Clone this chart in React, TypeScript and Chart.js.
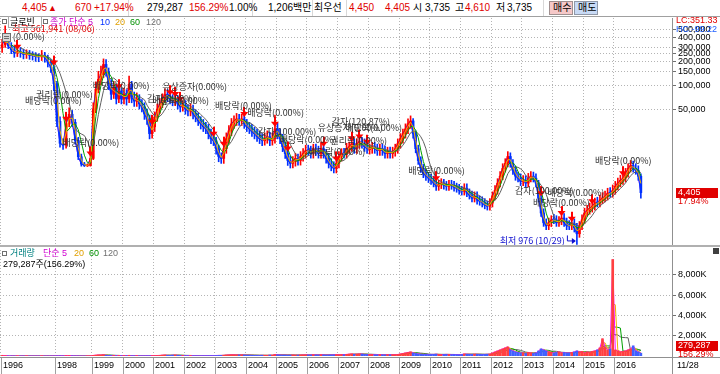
import React, { useEffect, useRef } from 'react';
import { Chart, registerables } from 'chart.js';

Chart.register(...registerables);
Chart.defaults.font.family = '"Liberation Sans", "Noto Sans CJK KR", sans-serif';

// ---------------- data ----------------
const START_YEAR = 1996;
const START_MONTH = 7;
const LAST_SATURDAY_TRADING_YEAR = 1998;
const TRADING_DAYS_WITH_SAT = 25;
const TRADING_DAYS = 21;

// monthly candles, 1996-07 .. 2016-11
const openP = [
  300000, 325000, 375000, 315000, 280000, 255000,
  264000, 258000, 246000, 248000, 240000, 237000, 230000, 228000, 240000, 225000, 195000, 167000,
  105000, 35000, 18500, 17500, 32500, 43000, 34000, 20000, 12500, 10100, 9600, 9700,
  11900, 50000, 89000, 119000, 137000, 183000, 149000, 103000, 77000, 94000, 67000, 84000,
  67000, 77000, 67000, 103000, 70600, 63000, 67000, 58000, 53000, 43300, 37500, 24400,
  29800, 39700, 50000, 58000, 67000, 77000, 70600, 67000, 63000, 67000, 58000, 53000,
  56100, 50000, 47200, 50000, 43300, 39700, 35400, 32500, 29800, 28100, 24400, 21100,
  19900, 15800, 12600, 11900, 15800, 21100, 26500, 32500, 35400, 37500, 35400, 37500,
  32500, 29800, 28100, 25800, 24400, 22400, 21100, 19900, 21100, 22400, 19900, 21100,
  28100, 24400, 21100, 16700, 13700, 11200, 10300, 10900, 11900, 11200, 12600, 13700,
  15300, 14900, 13700, 15800, 14900, 13700, 15800, 13700, 11900, 10300, 9450, 8900,
  10300, 12600, 14000, 13700, 15800, 16700, 18300, 15800, 18300, 19400, 18300, 16700,
  15400, 15800, 16700, 15800, 14900, 15800, 14900, 13700, 14500, 13700, 14500, 15800,
  18300, 21100, 24400, 28100, 32500, 35400, 24400, 15800, 11200, 8900, 7700, 7100,
  6700, 6300, 5800, 5300, 5600, 5800, 5450, 5300, 5600, 5450, 5150, 5000,
  4700, 4580, 5000, 4330, 4080, 3750, 3970, 3540, 3440, 3250, 3060, 2970,
  3250, 3970, 4700, 5800, 7100, 8900, 10300, 12600, 10300, 8400, 7100, 6700,
  6100, 6300, 5800, 6700, 7100, 6700, 5800, 3750, 2440, 1830, 1680, 1830,
  2030, 1990, 1830, 1930, 2100, 1830, 1720, 1680, 1780, 1580, 1330, 1680,
  1990, 2440, 2640, 2800, 2970, 3350, 3250, 3540, 3750, 3970, 4450, 4330,
  4700, 5300, 5800, 6300, 6700, 7700, 8900, 9700, 8900, 8400, 7100,
];
const highP = [
  380000, 561941, 430000, 345000, 310000, 300000,
  300000, 285000, 280000, 275000, 265000, 258000, 250000, 275000, 260000, 240000, 210000, 180000,
  112000, 40000, 21000, 38000, 52000, 48000, 37000, 22000, 13500, 10600, 10100, 14000,
  60000, 110000, 150000, 175000, 215000, 210000, 165000, 118000, 112000, 102000, 100000, 92000,
  92000, 88000, 130000, 112000, 82000, 80000, 76000, 66000, 60000, 50000, 42000, 36000,
  46000, 58000, 68000, 78000, 90000, 88000, 80000, 76000, 78000, 74000, 64000, 64000,
  64000, 57000, 58000, 56000, 49000, 45000, 40000, 37000, 34000, 32000, 28000, 24500,
  22000, 17500, 14000, 18500, 25000, 31000, 38000, 41000, 44000, 43000, 43000, 41000,
  37000, 34000, 32000, 29500, 28000, 26000, 24500, 25000, 26500, 25500, 25000, 42000,
  33000, 28000, 24000, 19000, 15500, 12800, 12600, 13800, 13500, 14500, 15800, 17500,
  17500, 17000, 18000, 18000, 17000, 18500, 18000, 15500, 13500, 11800, 10800, 12000,
  14500, 15800, 16000, 18500, 19200, 21500, 21000, 21000, 22500, 22000, 21000, 19000,
  18000, 19000, 19000, 18000, 18000, 18000, 17000, 16500, 16500, 16500, 18000, 21000,
  24500, 28000, 32500, 37500, 41000, 38000, 26500, 17500, 12500, 10000, 8600, 7900,
  7500, 7100, 6500, 6300, 6600, 6500, 6100, 6300, 6300, 6100, 5800, 5600,
  5300, 5700, 5700, 4900, 4600, 4500, 4500, 4000, 3900, 3700, 3450, 3700,
  4500, 5400, 6600, 8100, 10200, 11800, 14500, 14000, 11500, 9500, 8000, 7600,
  7200, 7200, 7700, 8100, 8000, 7600, 6300, 4100, 2750, 2050, 2100, 2250,
  2350, 2250, 2200, 2450, 2400, 2100, 1950, 2050, 2050, 1800, 1900, 2300,
  2800, 3050, 3250, 3400, 3750, 3850, 4100, 4400, 4600, 5000, 5100, 5500,
  6100, 6700, 7300, 7800, 8900, 10200, 11200, 11000, 10200, 9600, 7600,
];
const lowP = [
  260000, 300000, 290000, 250000, 225000, 230000,
  225000, 215000, 218000, 212000, 208000, 200000, 198000, 205000, 195000, 170000, 145000, 85000,
  30000, 16500, 15500, 16000, 30000, 30000, 18000, 11500, 9500, 9400, 9400, 9500,
  11500, 45000, 80000, 100000, 125000, 130000, 88000, 66000, 68000, 58000, 60000, 58000,
  58000, 56000, 60000, 60000, 54000, 54000, 50000, 46000, 37000, 32000, 21000, 21500,
  26000, 35000, 44000, 52000, 60000, 62000, 58000, 55000, 55000, 50000, 46000, 47000,
  43000, 41000, 41000, 37500, 34500, 31000, 28000, 26000, 24500, 21000, 18300, 17300,
  13500, 10800, 10300, 10300, 13800, 18500, 23000, 28500, 31000, 31000, 31000, 28500,
  26000, 24500, 22500, 21000, 19500, 18300, 17200, 17500, 18500, 17200, 17500, 18500,
  21000, 18300, 14500, 11900, 9700, 9000, 9000, 9500, 9800, 9800, 11000, 12000,
  13000, 12000, 12000, 13000, 12000, 12000, 12000, 10400, 9000, 8300, 7800, 7800,
  9000, 11000, 12000, 12000, 13800, 14600, 13800, 13800, 16000, 16000, 14600, 13800,
  13500, 13800, 13800, 13000, 13000, 13000, 12000, 12000, 12000, 12000, 12700, 13800,
  16000, 18500, 21500, 24500, 28500, 21500, 14000, 10000, 7900, 6800, 6300, 5900,
  5600, 5200, 4700, 4700, 4950, 4850, 4700, 4700, 4850, 4600, 4450, 4200,
  4100, 4100, 3900, 3650, 3350, 3350, 3150, 3050, 2900, 2750, 2650, 2650,
  2900, 3550, 4200, 5200, 6400, 8000, 9300, 9200, 7500, 6300, 6000, 5400,
  5400, 5200, 5200, 6000, 6000, 5200, 3350, 2200, 1650, 1500, 1500, 1640,
  1780, 1650, 1650, 1730, 1650, 1500, 1500, 1500, 1400, 976, 1200, 1500,
  1800, 2200, 2350, 2500, 2650, 2900, 2900, 3200, 3350, 3550, 3850, 3850,
  4200, 4750, 5200, 5600, 6000, 6900, 8000, 8000, 7500, 6300, 3735,
];
const closeP = [
  325000, 375000, 315000, 280000, 255000, 264000,
  258000, 246000, 248000, 240000, 237000, 230000, 228000, 240000, 225000, 195000, 167000, 105000,
  35000, 18500, 17500, 32500, 43000, 34000, 20000, 12500, 10100, 9700, 9700, 11900,
  50000, 89000, 119000, 137000, 183000, 149000, 103000, 77000, 94000, 67000, 84000, 67000,
  77000, 67000, 103000, 70600, 63000, 67000, 58000, 53000, 43300, 37500, 24400, 29800,
  39700, 50000, 58000, 67000, 77000, 70600, 67000, 63000, 67000, 58000, 53000, 56100,
  50000, 47200, 50000, 43300, 39700, 35400, 32500, 29800, 28100, 24400, 21100, 19900,
  15800, 12600, 11900, 15800, 21100, 26500, 32500, 35400, 37500, 35400, 37500, 32500,
  29800, 28100, 25800, 24400, 22400, 21100, 19900, 21100, 22400, 19900, 21100, 28100,
  24400, 21100, 16700, 13700, 11200, 10300, 10900, 11900, 11200, 12600, 13700, 14900,
  14900, 13700, 15800, 14900, 13700, 15800, 13700, 11900, 10300, 9450, 8900, 10300,
  12600, 13700, 13700, 15800, 16700, 18300, 15800, 18300, 19400, 18300, 16700, 15800,
  15800, 16700, 15800, 14900, 15800, 14900, 13700, 14500, 13700, 14500, 15800, 18300,
  21100, 24400, 28100, 32500, 35400, 24400, 15800, 11200, 8900, 7700, 7100, 6700,
  6300, 5800, 5300, 5600, 5800, 5450, 5300, 5600, 5450, 5150, 5000, 4700,
  4580, 5000, 4330, 4080, 3750, 3970, 3540, 3440, 3250, 3060, 2970, 3250,
  3970, 4700, 5800, 7100, 8900, 10300, 12600, 10300, 8400, 7100, 6700, 6100,
  6300, 5800, 6700, 7100, 6700, 5800, 3750, 2440, 1830, 1680, 1830, 1990,
  1990, 1830, 1930, 2100, 1830, 1680, 1680, 1780, 1580, 1330, 1680, 1990,
  2440, 2640, 2800, 2970, 3250, 3250, 3540, 3750, 3970, 4330, 4330, 4700,
  5300, 5800, 6300, 6700, 7700, 8900, 9700, 8900, 8400, 7100, 4405,
];
// thousand shares
const volumeK = [
  60, 30, 20, 15, 10, 10,
  8, 8, 6, 6, 5, 5, 5, 6, 5, 6, 8, 10,
  20, 25, 15, 30, 40, 25, 15, 10, 5, 3, 3, 10,
  60, 80, 100, 90, 120, 70, 50, 40, 50, 30, 40, 30,
  40, 30, 60, 30, 25, 25, 20, 20, 20, 25, 30, 25,
  35, 50, 60, 80, 90, 70, 60, 80, 90, 70, 50, 50,
  40, 35, 40, 30, 30, 25, 25, 30, 30, 35, 40, 35,
  50, 60, 60, 70, 90, 100, 120, 110, 100, 90, 100, 90,
  80, 80, 70, 60, 60, 60, 70, 60, 60, 80, 70, 150,
  120, 100, 90, 90, 80, 80, 90, 80, 80, 90, 100, 110,
  100, 100, 120, 110, 100, 120, 110, 90, 100, 110, 120, 130,
  120, 140, 130, 160, 180, 200, 170, 180, 200, 190, 160, 150,
  140, 150, 130, 120, 130, 120, 110, 120, 110, 120, 130, 150,
  200, 250, 300, 350, 400, 300, 250, 200, 180, 150, 150, 140,
  150, 160, 180, 150, 140, 150, 160, 150, 140, 150, 140, 130,
  150, 200, 180, 170, 160, 180, 170, 160, 150, 160, 170, 180,
  300, 400, 500, 600, 700, 800, 900, 600, 500, 400, 350, 300,
  300, 250, 350, 300, 250, 300, 500, 700, 600, 500, 400, 350,
  300, 350, 400, 300, 350, 300, 300, 350, 400, 500, 400, 450,
  300, 400, 350, 450, 500, 600, 800, 1700, 900, 600, 700, 9500,
  600, 500, 400, 450, 500, 600, 700, 1000, 500, 400, 279.287,
];

const yearLabels = ['1996', '1998', '1999', '2000', '2001', '2002', '2003', '2004', '2005', '2006', '2007', '2008', '2009', '2010', '2011', '2012', '2013', '2014', '2015', '2016'];
const lastDateLabel = '11/28';
const priceTicks = [50000, 100000, 150000, 200000, 250000, 300000, 400000, 500000];
const volumeTicks = [2000000, 4000000, 6000000, 8000000];

const priceMaPeriods = ['5', '10', '20', '60', '120'];
const priceMaMonths = [1, 1, 2, 4, 7];
const volumeMaPeriods = ['5', '20', '60', '120'];
const volumeMaMonths = [1, 2, 4, 7];

// corporate events (month index from 1996-07)
const eventMonth = [5, 17, 21, 21, 29, 40, 53, 60, 62, 64, 77, 81, 89, 101, 106, 120, 125, 131, 131, 134, 137, 164, 205, 205, 213, 217, 225, 237];
const eventLabel = ['(0.00%)', '', '권리락(0.00%)', '배당락(0.00%)', '배당락(0.00%)', '배당락(0.00%)', '', '감자(0.00%)', '유상증자(0.00%)', '배당락(0.00%)', '배당락(0.00%)', '', '배당락(0.00%)', '감자(100.00%)', '배당락(0.00%)', '배당락(0.00%)', '권리락(0.00%)', '유상증자(0.00%)', '감자(120.87%)', '배당락(0.00%)', '', '배당락(0.00%)', '배당락(0.00%)', '감자(100.00%)', '배당락(0.00%)', '', '', '배당락(0.00%)'];

const highMonth = 1;
const highLabel = '최고 561,941 (08/06)';
const lowMonth = 219;
const lowLabel = '최저 976 (10/29)';
const changeAmount = '670';
const changePct = '+17.94%';
const volumePct = '156.29%';

// ---------------- layout / style ----------------
const eventDx = [-4.5, 0, -30, -41, -28, -26, 0, -23, -13, -28, 1.5, 0, 3, -17, -8, -15, -6, -34, -20, -14, 0, -28, -8, -26, -14, 0, 0, -28];
const eventDy = [-3, 0, -17, -11, -4, 6, 0, 13, 0, 9, -21, 0, 6, 15, -2, 15, -11, -4, -10, -2, 0, -1, 16, 4, -14, 0, 0, -6];
const maColors = ['#ff00ff', '#0040ff', '#f0b000', '#00a000', '#606060'];
const volMaColors = ['#ff00ff', '#f0b000', '#00a000', '#606060'];
const UP = '#ff0000';
const DOWN = '#0030ff';
const AXIS_FONT = '9px "Liberation Sans", sans-serif';
const KO_FONT = '9px "Noto Sans CJK KR", sans-serif';

// ---------------- derived ----------------
const monthYear = (k: number) => START_YEAR + Math.floor((START_MONTH - 1 + k) / 12);
const monthNum = (k: number) => ((START_MONTH - 1 + k) % 12) + 1;
const monthStart: number[] = [];
const barX: number[] = [];
{
  let acc = 0;
  for (let k = 0; k < closeP.length; k++) {
    const d = monthYear(k) <= LAST_SATURDAY_TRADING_YEAR ? TRADING_DAYS_WITH_SAT : TRADING_DAYS;
    monthStart.push(acc);
    barX.push(acc + d / 2);
    acc += d;
  }
}
const yearTickDays = yearLabels.map((y, i) => {
  if (i === 0) return 0;
  const k = monthStart.findIndex((_, j) => monthYear(j) === Number(y) && monthNum(j) === 1);
  return monthStart[k];
});

function sma(arr: number[], n: number) {
  return arr.map((_, i) => {
    if (i < n - 1) return null;
    let s = 0;
    for (let j = i - n + 1; j <= i; j++) s += arr[j];
    return s / n;
  });
}

const X_MIN = -5;
const X_MAX = 5510;

const fmt = (v: number) => Math.round(v).toLocaleString('en-US');

function xScale(heightFn: number) {
  return {
    type: 'linear',
    min: X_MIN,
    max: X_MAX,
    bounds: 'data',
    offset: false,
    afterBuildTicks: (s: any) => { s.ticks = yearTickDays.map((v) => ({ value: v })); },
    afterFit: (s: any) => { s.height = heightFn; s.paddingLeft = 0; s.paddingRight = 0; },
    ticks: { display: false },
    grid: { color: '#b4b4b4', drawTicks: false, offset: false, lineWidth: 1 },
    border: { display: false, dash: [1, 2] },
  };
}

function drawArrow(ctx: CanvasRenderingContext2D, x: number, top: number, tip: number) {
  ctx.fillStyle = '#ff0000';
  ctx.fillRect(Math.round(x) - 1, top, 2, tip - top - 4);
  ctx.beginPath();
  ctx.moveTo(x - 4, tip - 5);
  ctx.lineTo(x + 4, tip - 5);
  ctx.lineTo(x, tip);
  ctx.closePath();
  ctx.fill();
}

const pricePlugin = {
  id: 'priceDecor',
  afterDatasetsDraw(chart: any) {
    const { ctx, scales } = chart;
    const x = scales.x, y = scales.y;
    ctx.save();
    const done = new Set<number>();
    eventMonth.forEach((k) => {
      const px = x.getPixelForValue(barX[k]);
      const tip = y.getPixelForValue(Math.max(openP[k], closeP[k])) - 2;
      const top = tip - 10;
      if (!done.has(k)) { drawArrow(ctx, px, top, tip); done.add(k); }
    });
    ctx.font = KO_FONT;
    ctx.textBaseline = 'middle';
    ctx.textAlign = 'left';
    eventMonth.forEach((k, i) => {
      const lbl = eventLabel[i];
      if (!lbl) return;
      const px = x.getPixelForValue(barX[k]);
      const tip = y.getPixelForValue(Math.max(openP[k], closeP[k])) - 2;
      const top = tip - 10;
      ctx.fillStyle = '#303030';
      ctx.fillText(lbl, px + eventDx[i], top + eventDy[i]);
      if (i === 0) {
        const ix = Math.round(px + eventDx[i] - 11);
        const iy = Math.round(top + eventDy[i] - 4);
        ctx.fillStyle = '#d8d8d8';
        ctx.fillRect(ix, iy, 9, 9);
        ctx.strokeStyle = '#707070';
        ctx.lineWidth = 1;
        ctx.strokeRect(ix + 0.5, iy + 0.5, 8, 8);
        ctx.fillStyle = '#707070';
        ctx.fillRect(ix + 2, iy + 3, 5, 1);
        ctx.fillRect(ix + 2, iy + 5, 5, 1);
      }
    });
    // high label
    {
      const px = x.getPixelForValue(barX[highMonth]);
      const py = y.getPixelForValue(highP[highMonth]);
      ctx.fillStyle = '#e00000';
      ctx.fillText(highLabel, px + 7, py + 3);
    }
    // low label
    {
      const px = x.getPixelForValue(barX[lowMonth]);
      const py = y.getPixelForValue(lowP[lowMonth]) - 4;
      ctx.fillStyle = '#1010d0';
      ctx.textAlign = 'right';
      ctx.fillText(lowLabel, px - 12, py);
      ctx.strokeStyle = '#1010d0';
      ctx.lineWidth = 1;
      ctx.beginPath();
      ctx.moveTo(px - 9.5, py - 5);
      ctx.lineTo(px - 9.5, py + 0.5);
      ctx.lineTo(px - 2, py + 0.5);
      ctx.stroke();
      ctx.beginPath();
      ctx.moveTo(px - 1, py + 0.5);
      ctx.lineTo(px - 5, py - 2.5);
      ctx.lineTo(px - 5, py + 3.5);
      ctx.closePath();
      ctx.fillStyle = '#1010d0';
      ctx.fill();
    }
    // current price tag
    const last = closeP.length - 1;
    const yp = y.getPixelForValue(closeP[last]);
    ctx.textAlign = 'left';
    ctx.fillStyle = '#e00000';
    ctx.fillRect(676, Math.round(yp) - 5, 42, 10);
    ctx.font = AXIS_FONT;
    ctx.fillStyle = '#ffffff';
    ctx.fillText(fmt(closeP[last]), 678, yp);
    ctx.fillStyle = '#e00000';
    ctx.fillText(changePct.replace('+', ''), 678, yp + 9);
    ctx.restore();
  },
};

const volumePlugin = {
  id: 'volDecor',
  afterDraw(chart: any) {
    const { ctx, scales, chartArea } = chart;
    const x = scales.x, y = scales.y;
    const H = chart.height;
    ctx.save();
    ctx.strokeStyle = '#909090';
    ctx.lineWidth = 1;
    ctx.beginPath();
    ctx.moveTo(0, chartArea.bottom + 1.5);
    ctx.lineTo(720, chartArea.bottom + 1.5);
    ctx.stroke();
    ctx.font = AXIS_FONT;
    ctx.textBaseline = 'middle';
    ctx.textAlign = 'left';
    yearLabels.forEach((lbl, i) => {
      const px = Math.round(x.getPixelForValue(yearTickDays[i])) + 0.5;
      ctx.strokeStyle = '#a0a0a0';
      ctx.beginPath();
      ctx.moveTo(px, chartArea.bottom + 2);
      ctx.lineTo(px, H);
      ctx.stroke();
      ctx.fillStyle = '#000';
      ctx.fillText(lbl, px + 1.5, chartArea.bottom + 10);
    });
    ctx.strokeStyle = '#909090';
    ctx.beginPath();
    ctx.moveTo(chartArea.right + 0.5, chartArea.bottom);
    ctx.lineTo(chartArea.right + 0.5, H);
    ctx.stroke();
    ctx.fillStyle = '#000';
    ctx.fillText(lastDateLabel, 677, chartArea.bottom + 10);
    // current volume tag
    const lastV = volumeK[volumeK.length - 1] * 1000;
    const yv = Math.min(y.getPixelForValue(lastV), chartArea.bottom - 10);
    ctx.fillStyle = '#e00000';
    ctx.fillRect(676, Math.round(yv) - 5, 42, 10);
    ctx.fillStyle = '#fff';
    ctx.fillText(fmt(lastV), 678, yv);
    ctx.fillStyle = '#e00000';
    ctx.fillText(volumePct, 678, yv + 9);
    // small panel icon
    ctx.fillStyle = '#404040';
    ctx.fillRect(713, chartArea.top - 2, 6, 6);
    ctx.restore();
  },
};

const Txt = (p: { x: number; y: number; c?: string; s?: number; children: any }) => {
  const s = p.s ?? 10;
  return (
    <span
      style={{
        position: 'absolute', left: p.x, top: p.y - s * 0.6, fontSize: s, lineHeight: `${s * 1.2}px`,
        color: p.c ?? '#000', whiteSpace: 'pre',
      }}
    >
      {p.children}
    </span>
  );
};

const Box = (p: { x: number; y: number; w: number; h: number; bg?: string; border?: string }) => (
  <div style={{ position: 'absolute', left: p.x, top: p.y, width: p.w, height: p.h, background: p.bg ?? 'transparent', border: p.border ? `1px solid ${p.border}` : 'none', boxSizing: 'border-box' }} />
);

export default function App() {
  const priceRef = useRef<HTMLCanvasElement>(null);
  const volRef = useRef<HTMLCanvasElement>(null);

  useEffect(() => {
    const colors = closeP.map((c, i) => (c >= openP[i] ? UP : DOWN));
    const wick = closeP.map((_, i) => ({ x: barX[i], y: [lowP[i], highP[i]] }));
    const body = closeP.map((c, i) => ({ x: barX[i], y: [Math.min(openP[i], c), Math.max(openP[i], c)] }));
    // magenta & blue under candles, 20/60/120 over them
    const lineOrder = [14, 13, 3, 4, 5];
    const maSets = priceMaMonths.map((w, j) => ({
      type: 'line',
      label: 'MA' + priceMaPeriods[j],
      data: sma(closeP, w).map((v, i) => ({ x: barX[i], y: v })),
      borderColor: maColors[j],
      borderWidth: 1,
      pointRadius: 0,
      tension: 0,
      order: lineOrder[j],
    }));

    const price = new Chart(priceRef.current!, {
      type: 'bar',
      data: {
        datasets: [
          { type: 'bar', label: 'wick', data: wick, backgroundColor: colors, barThickness: 1, grouped: false, order: 11 },
          { type: 'bar', label: 'body', data: body, backgroundColor: colors, barThickness: 2, grouped: false, minBarLength: 1, order: 10 },
          ...maSets,
        ] as any,
      },
      options: {
        animation: false,
        responsive: false,
        maintainAspectRatio: false,
        events: [],
        layout: { padding: 0 },
        plugins: { legend: { display: false }, tooltip: { enabled: false } },
        scales: {
          x: xScale(0) as any,
          y: {
            type: 'logarithmic',
            position: 'right',
            min: 960,
            max: 706000,
            bounds: 'data',
            afterBuildTicks: (s: any) => { s.ticks = priceTicks.map((v) => ({ value: v })); },
            afterFit: (s: any) => { s.width = 48; s.paddingTop = 0; s.paddingBottom = 0; },
            ticks: { autoSkip: false, color: '#000', font: { size: 9 }, padding: 2, callback: (v: any) => fmt(Number(v)) },
            grid: { color: '#b4b4b4', tickColor: '#707070', tickLength: 4, tickBorderDash: [] },
            border: { display: true, color: '#909090', dash: [1, 2] },
          } as any,
        },
      },
      plugins: [pricePlugin],
    });

    const vColors = volumeK.map((_, i) => (closeP[i] >= openP[i] ? '#ff4040' : '#4060ff'));
    const vols = volumeK.map((v) => v * 1000);
    const vLineOrder = [2, 3, 4, 5];
    const vol = new Chart(volRef.current!, {
      type: 'bar',
      data: {
        datasets: [
          { type: 'bar', label: 'vol', data: vols.map((v, i) => ({ x: barX[i], y: v })), backgroundColor: vColors, barThickness: 2, grouped: false, order: 1 },
          ...volumeMaMonths.map((w, j) => ({
            type: 'line',
            label: 'VMA' + volumeMaPeriods[j],
            data: sma(vols, w).map((v, i) => ({ x: barX[i], y: v })),
            borderColor: volMaColors[j],
            borderWidth: 1,
            pointRadius: 0,
            tension: 0,
            order: vLineOrder[j],
          })),
        ] as any,
      },
      options: {
        animation: false,
        responsive: false,
        maintainAspectRatio: false,
        events: [],
        layout: { padding: { top: 5, left: 0, right: 0, bottom: 0 } },
        plugins: { legend: { display: false }, tooltip: { enabled: false } },
        scales: {
          x: xScale(18) as any,
          y: {
            type: 'linear',
            position: 'right',
            min: 0,
            max: 10440000,
            bounds: 'data',
            afterBuildTicks: (s: any) => { s.ticks = volumeTicks.map((v) => ({ value: v })); },
            afterFit: (s: any) => { s.width = 48; s.paddingTop = 0; s.paddingBottom = 0; },
            ticks: { autoSkip: false, color: '#000', font: { size: 9 }, padding: 2, callback: (v: any) => fmt(Number(v) / 1000) + 'K' },
            grid: { color: '#b4b4b4', tickColor: '#707070', tickLength: 4, tickBorderDash: [] },
            border: { display: true, color: '#909090', dash: [1, 2] },
          } as any,
        },
      },
      plugins: [volumePlugin],
    });

    return () => { price.destroy(); vol.destroy(); };
  }, []);

  const last = closeP.length - 1;
  return (
    <div style={{ position: 'fixed', left: 0, top: 0, width: 720, height: 374, background: '#fff', overflow: 'hidden', fontFamily: '"Liberation Sans", "Noto Sans CJK KR", sans-serif' }}>
      {/* top info bar */}
      <Box x={0} y={16} w={720} h={1} bg="#a0a0a0" />
      <Box x={128} y={0} w={1} h={16} bg="#d8d8d8" />
      <Box x={252} y={0} w={1} h={16} bg="#d8d8d8" />
      <Box x={312} y={0} w={1} h={16} bg="#d8d8d8" />
      <Box x={346} y={0} w={1} h={16} bg="#d8d8d8" />
      <Box x={543} y={0} w={1} h={16} bg="#d8d8d8" />
      <Txt x={22} y={8} c="#e00000">{fmt(closeP[last])}</Txt>
      <Txt x={48} y={8} c="#e00000" s={9}>▲</Txt>
      <Txt x={75} y={8} c="#e00000">{changeAmount}</Txt>
      <Txt x={94} y={8} c="#e00000">{changePct}</Txt>
      <Txt x={147} y={8}>{fmt(volumeK[last] * 1000)}</Txt>
      <Txt x={189} y={8} c="#e00000">{volumePct}</Txt>
      <Txt x={229} y={8}>1.00%</Txt>
      <Txt x={268} y={8}>1,206백만</Txt>
      <Txt x={314} y={8}>최우선</Txt>
      <Txt x={349} y={8} c="#e00000">4,450</Txt>
      <Txt x={385} y={8} c="#e00000">{fmt(closeP[last])}</Txt>
      <Txt x={413} y={8}>시</Txt>
      <Txt x={425} y={8}>{fmt(lowP[last])}</Txt>
      <Txt x={455} y={8}>고</Txt>
      <Txt x={465} y={8} c="#e00000">4,610</Txt>
      <Txt x={496} y={8}>저</Txt>
      <Txt x={507} y={8}>{fmt(lowP[last])}</Txt>
      <Box x={549} y={1} w={24} h={14} bg="#f5c8c8" border="#a09090" />
      <Txt x={553} y={8}>매수</Txt>
      <Box x={574} y={1} w={24} h={14} bg="#c8daf5" border="#9098a8" />
      <Txt x={578} y={8}>매도</Txt>

      <canvas ref={priceRef} width={720} height={227} style={{ position: 'absolute', left: 0, top: 18 }} />
      <canvas ref={volRef} width={720} height={129} style={{ position: 'absolute', left: 0, top: 245 }} />
      <Box x={0} y={245} w={720} h={2} bg="#b0b0b0" />

      {/* price legend */}
      <Box x={2} y={19} w={5} h={5} border="#707070" />
      <Box x={8} y={16} w={34} h={12} border="#a8a8a8" />
      <Txt x={10} y={22} s={9}>글로빈</Txt>
      <Box x={43} y={19} w={5} h={5} border="#707070" />
      <Txt x={50} y={22} s={9} c="#d000d0">{'종가 단순 ' + priceMaPeriods[0]}</Txt>
      <Txt x={100} y={22} s={9} c="#0030ff">{priceMaPeriods[1]}</Txt>
      <Txt x={115} y={22} s={9} c="#e0a000">{priceMaPeriods[2]}</Txt>
      <Txt x={130} y={22} s={9} c="#009000">{priceMaPeriods[3]}</Txt>
      <Txt x={146} y={22} s={9} c="#707070">{priceMaPeriods[4]}</Txt>
      <Txt x={676} y={20} s={9} c="#e00000">LC:351.33</Txt>
      <Txt x={676} y={29} s={9} c="#2060ff">HC:-99.22</Txt>

      {/* volume legend */}
      <Box x={2} y={251} w={5} h={5} border="#707070" />
      <Txt x={10} y={253} s={9} c="#008080">거래량</Txt>
      <Txt x={43} y={253} s={9} c="#d000d0">{'단순 ' + volumeMaPeriods[0]}</Txt>
      <Txt x={74} y={253} s={9} c="#e0a000">{volumeMaPeriods[1]}</Txt>
      <Txt x={89} y={253} s={9} c="#009000">{volumeMaPeriods[2]}</Txt>
      <Txt x={103} y={253} s={9} c="#707070">{volumeMaPeriods[3]}</Txt>
      <Txt x={3} y={264} s={9}>{fmt(volumeK[last] * 1000) + '주(' + volumePct + ')'}</Txt>
    </div>
  );
}
